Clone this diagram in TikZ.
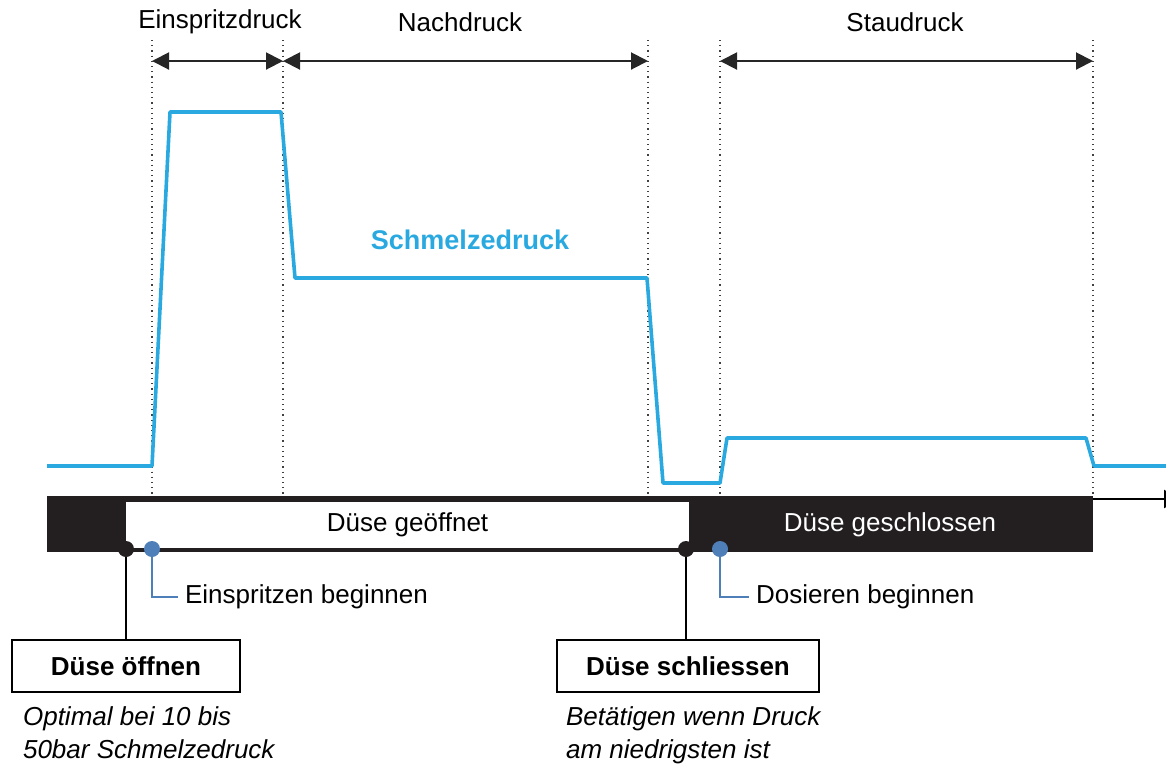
\documentclass[tikz,border=0pt]{standalone}
\usepackage{fontspec}
\setmainfont{Liberation Sans}
\usetikzlibrary{positioning, arrows.meta}
\definecolor{melt}{RGB}{41,169,224}
\definecolor{marker}{RGB}{79,127,185}
\definecolor{barblack}{RGB}{35,31,32}

\begin{document}
\begin{tikzpicture}[
				x=0.5pt, y=-0.5pt,
				every node/.style={font=\fontsize{13}{16.5}\selectfont},
				phase/.style={dotted, black!75, line width=0.6pt},
				span/.style={{Triangle[length=8.5pt,width=8.5pt]}-{Triangle[length=8.5pt,width=8.5pt]}, line width=1pt, black!85},
				dot/.style={circle, inner sep=0pt, minimum size=8pt},
				actbox/.style={draw, line width=1pt, minimum height=26pt, font=\fontsize{13}{16.5}\selectfont\bfseries},
				note/.style={align=left, anchor=north west, font=\fontsize{13}{16.5}\selectfont\itshape}
				]
				\useasboundingbox (0,0) rectangle (1166,768);
				% phase borders
				\foreach \x [count=\i] in {152,283,648,720,1093} {
					\coordinate (t\i) at (\x,40);
					\coordinate (b\i) at (\x,497);
					\draw[phase] (t\i) -- (b\i);
				}
				\draw[span] (t1 |- 0,61) coordinate (s1) -- (t2 |- 0,61) coordinate (s2);
				\draw[span] (s2) -- (t3 |- 0,61) coordinate (s3);
				\draw[span] (t4 |- 0,61) coordinate (s4) -- (t5 |- 0,61) coordinate (s5);
				\node (inj) at (220,22) {Einspritzdruck};
				\node (hold) at (460,22) {Nachdruck};
				\node (back) at (905,22) {Staudruck};
				% melt pressure
				\draw[melt, line width=1.8pt, line join=round]
				(47,466) -- (152,466) -- (170,112) -- (281,112) -- (295,278) -- (647,278)
				-- (663,483) -- (720,483) -- (727,438) -- (1086,438) -- (1094,466) -- (1166,466);
				\node[text=melt, font=\fontsize{13.5}{16}\selectfont\bfseries] (melt) at (470,240) {Schmelzedruck};
				% nozzle bar
				\fill[barblack] (47,496) rectangle (1093,552);
				\node[fill=white, minimum width=281.5pt, minimum height=23pt, inner sep=0pt] (open) at (407.5,524.5) {Düse geöffnet};
				\node[text=white] (closed) at (890,525) {Düse geschlossen};
				\coordinate (axend) at (1180,499);
				\draw[line width=1.2pt, -{Triangle[length=8pt,width=9pt]}] (1093,499) -- (axend);
				% markers
				\node[dot, fill=barblack] (opendot) at (126,549) {};
				\node[dot, fill=marker] (injdot) at (152,549) {};
				\node[dot, fill=barblack] (closedot) at (686,549) {};
				\node[dot, fill=marker] (dosdot) at (720,549) {};
				\node[anchor=west] (injlbl) at (178,597) {Einspritzen beginnen};
				\node[anchor=west] (doslbl) at (749,597) {Dosieren beginnen};
				\draw[marker, line width=1pt] (injdot) |- (injlbl);
				\draw[marker, line width=1pt] (dosdot) |- (doslbl);
				\node[actbox, minimum width=114pt] (openbox) at (126,666) {Düse öffnen};
				\node[actbox, minimum width=131pt] (closebox) at (688,666) {Düse schliessen};
				\draw[line width=1pt] (opendot) -- (openbox);
				\draw[line width=1pt] (closedot) -- (closebox.north -| closedot);
				\node[note] (opennote) at (16,700) {Optimal bei 10 bis\\50bar Schmelzedruck};
				\node[note] (closenote) at (559,700) {Betätigen wenn Druck\\am niedrigsten ist};
			\end{tikzpicture}
\end{document}
